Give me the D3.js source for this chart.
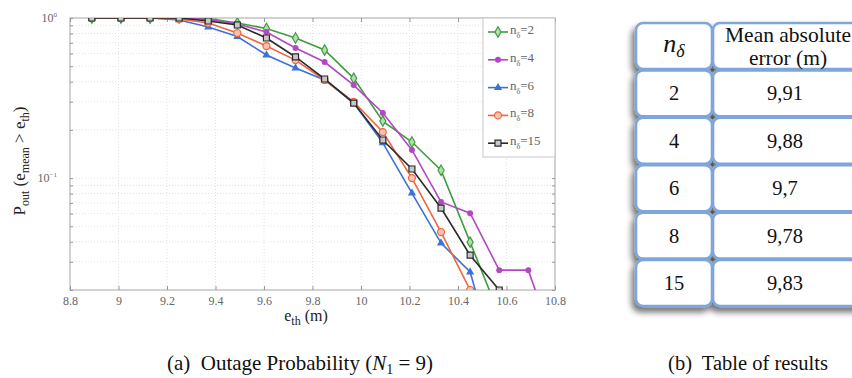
<!DOCTYPE html>
<html lang="en">
<head>
  <meta charset="UTF-8">
  <title>Outage Probability and Table of Results</title>
  <script src="https://d3js.org/d3.v7.min.js"></script>
  <style>
    body {
      margin: 0;
      background: #fff;
    }

    svg text {
      font-family: "Liberation Serif", "DejaVu Serif", serif;
    }

    .axis text {
      fill: #666;
      font-size: 12px;
    }

    .axis line {
      stroke: #999;
    }

    .grid line {
      stroke: #e2e2e2;
      stroke-dasharray: 1, 2;
    }
  </style>
</head>

<body>
  <div id="chart"></div>
  <script>
    // e_th sample positions (m)
    const eth = [8.89, 9.01, 9.13, 9.25, 9.37, 9.49, 9.61, 9.73, 9.85, 9.97, 10.09, 10.21, 10.33, 10.45, 10.57, 10.69, 10.81];

    // outage probability for each n_delta
    const pOut2 = [1, 1, 1, 1, 0.993, 0.931, 0.86, 0.75, 0.631, 0.42, 0.227, 0.168, 0.112, 0.0398, 0.014];
    const pOut4 = [1, 1, 1, 1, 0.979, 0.917, 0.818, 0.649, 0.531, 0.381, 0.255, 0.15, 0.071, 0.0604, 0.0266, 0.0266, 0.008];
    const pOut6 = [1, 1, 1, 0.972, 0.878, 0.766, 0.587, 0.487, 0.41, 0.294, 0.166, 0.0806, 0.0393, 0.0259, 0.006];
    const pOut8 = [1, 1, 1, 0.986, 0.931, 0.806, 0.668, 0.546, 0.41, 0.299, 0.194, 0.1, 0.046, 0.02];
    const pOut15 = [1, 1, 1, 1, 0.958, 0.904, 0.75, 0.571, 0.416, 0.294, 0.173, 0.114, 0.065, 0.033, 0.02];

    const seriesLabels = ["2", "4", "6", "8", "15"];
    const xTicks = [8.8, 9, 9.2, 9.4, 9.6, 9.8, 10, 10.2, 10.4, 10.6, 10.8];

    // table of results
    const tableN = ["2", "4", "6", "8", "15"];
    const tableMae = ["9,91", "9,88", "9,7", "9,78", "9,83"];

    const series = [
      {name: seriesLabels[0], values: pOut2, color: "#3f9c3f", fill: "#b5deb0", symbol: d3.symbolDiamond, size: 32},
      {name: seriesLabels[1], values: pOut4, color: "#b447c4", fill: "#b447c4", symbol: d3.symbolCircle, size: 18},
      {name: seriesLabels[2], values: pOut6, color: "#3a72d8", fill: "#3a72d8", symbol: d3.symbolTriangle, size: 16},
      {name: seriesLabels[3], values: pOut8, color: "#f0653f", fill: "#fbc1b0", symbol: d3.symbolCircle, size: 38},
      {name: seriesLabels[4], values: pOut15, color: "#2a2a2a", fill: "#c8c8c8", symbol: d3.symbolSquare, size: 36}
    ];

    const W = 852, H = 378;
    const plot = {left: 70, right: 555, top: 18, bottom: 290};
    const serif = "'Liberation Serif', 'DejaVu Serif', serif";

    const svg = d3.select("#chart")
      .append("svg")
      .attr("width", W)
      .attr("height", H)
      .attr("font-family", serif)
      .style("display", "block");

    const defs = svg.append("defs");
    defs.append("clipPath")
      .attr("id", "plot-clip")
      .append("rect")
      .attr("x", plot.left)
      .attr("y", plot.top)
      .attr("width", plot.right - plot.left)
      .attr("height", plot.bottom - plot.top);

    const shadow = defs.append("filter")
      .attr("id", "shadow")
      .attr("x", "-20%").attr("y", "-20%")
      .attr("width", "140%").attr("height", "140%");
    shadow.append("feDropShadow")
      .attr("dx", -3)
      .attr("dy", 5)
      .attr("stdDeviation", 3)
      .attr("flood-color", "#000")
      .attr("flood-opacity", 0.55);

    const x = d3.scaleLinear().domain([8.8, 10.8]).range([plot.left, plot.right]);
    const y = d3.scaleLog().domain([0.02, 1]).range([plot.bottom, plot.top]);

    // grid
    svg.append("g")
      .attr("class", "grid")
      .selectAll("line.v")
      .data(xTicks.slice(1, -1))
      .enter().append("line")
      .attr("x1", d => x(d)).attr("x2", d => x(d))
      .attr("y1", plot.top).attr("y2", plot.bottom);

    svg.append("g")
      .attr("class", "grid")
      .selectAll("line.h")
      .data(y.ticks().filter(d => d > 0.02 && d < 1))
      .enter().append("line")
      .attr("x1", plot.left).attr("x2", plot.right)
      .attr("y1", d => y(d)).attr("y2", d => y(d));

    // frame
    svg.append("rect")
      .attr("x", plot.left)
      .attr("y", plot.top)
      .attr("width", plot.right - plot.left)
      .attr("height", plot.bottom - plot.top)
      .attr("fill", "none")
      .attr("stroke", "#b5b5b5")
      .attr("stroke-width", 1.2);

    // axes
    const xAxis = svg.append("g")
      .attr("class", "axis")
      .attr("transform", "translate(0," + plot.bottom + ")")
      .call(d3.axisBottom(x).tickValues(xTicks).tickSize(-4).tickPadding(6).tickFormat(d3.format("")));
    xAxis.select(".domain").remove();
    xAxis.attr("font-family", serif);

    const xTop = svg.append("g")
      .attr("class", "axis")
      .attr("transform", "translate(0," + plot.top + ")")
      .call(d3.axisTop(x).tickValues(xTicks).tickSize(-4).tickFormat(""));
    xTop.select(".domain").remove();

    const yAxis = svg.append("g")
      .attr("class", "axis")
      .attr("transform", "translate(" + plot.left + ",0)")
      .call(d3.axisLeft(y).tickValues(y.ticks()).tickSize(-3).tickFormat(""));
    yAxis.select(".domain").remove();

    const yRight = svg.append("g")
      .attr("class", "axis")
      .attr("transform", "translate(" + plot.right + ",0)")
      .call(d3.axisRight(y).tickValues(y.ticks()).tickSize(-3).tickFormat(""));
    yRight.select(".domain").remove();

    const decades = svg.append("g")
      .selectAll("text")
      .data([1, 0.1])
      .enter().append("text")
      .attr("x", plot.left - 13)
      .attr("y", d => y(d) + 4)
      .attr("text-anchor", "end")
      .attr("fill", "#666")
      .style("font-size", "12px");
    decades.append("tspan").text("10");
    decades.append("tspan")
      .attr("dy", -5)
      .style("font-size", "7px")
      .text(d => d === 1 ? "0" : "\u22121");

    // series
    const line = d3.line()
      .x((d, i) => x(eth[i]))
      .y(d => y(d));

    const lines = svg.append("g").attr("clip-path", "url(#plot-clip)");

    series.forEach(s => {
      lines.append("path")
        .datum(s.values)
        .attr("fill", "none")
        .attr("stroke", s.color)
        .attr("stroke-width", 1.6)
        .attr("d", line);

      lines.selectAll(null)
        .data(s.values.filter(v => v >= 0.02))
        .enter().append("path")
        .attr("transform", (d, i) => "translate(" + x(eth[i]) + "," + y(d) + ")")
        .attr("d", d3.symbol().type(s.symbol).size(s.size))
        .attr("fill", s.fill)
        .attr("stroke", s.color)
        .attr("stroke-width", 1.2);
    });

    // legend
    const legendBox = {x: 483, y: plot.top, w: plot.right - 483, h: 139};
    svg.append("rect")
      .attr("x", legendBox.x)
      .attr("y", legendBox.y)
      .attr("width", legendBox.w)
      .attr("height", legendBox.h)
      .attr("fill", "#fff")
      .attr("stroke", "#c8c8c8");

    const legend = svg.append("g")
      .selectAll("g")
      .data(series)
      .enter().append("g")
      .attr("transform", (d, i) => "translate(" + (legendBox.x + 5) + "," + (32 + i * 27.8) + ")");

    legend.append("line")
      .attr("x1", 0).attr("x2", 20)
      .attr("stroke", d => d.color)
      .attr("stroke-width", 1.6);

    legend.append("path")
      .attr("transform", "translate(10,0)")
      .attr("d", d => d3.symbol().type(d.symbol).size(d.size)())
      .attr("fill", d => d.fill)
      .attr("stroke", d => d.color)
      .attr("stroke-width", 1.2);

    const legendText = legend.append("text")
      .attr("x", 22)
      .attr("y", 2)
      .attr("fill", "#666")
      .style("font-size", "13px");
    legendText.append("tspan").text("n");
    legendText.append("tspan").attr("dy", 4).style("font-size", "8px").text("\u03b4");
    legendText.append("tspan").attr("dy", -4).text(d => "=" + d.name);

    // axis titles
    const yTitle = svg.append("text")
      .attr("transform", "translate(25,161) rotate(-90)")
      .attr("text-anchor", "middle")
      .attr("fill", "#222")
      .style("font-size", "17px");
    yTitle.append("tspan").text("P");
    yTitle.append("tspan").attr("dy", 4).style("font-size", "12px").text("out");
    yTitle.append("tspan").attr("dy", -4).text(" (e");
    yTitle.append("tspan").attr("dy", 4).style("font-size", "12px").text("mean");
    yTitle.append("tspan").attr("dy", -4).text(" > e");
    yTitle.append("tspan").attr("dy", 4).style("font-size", "12px").text("th");
    yTitle.append("tspan").attr("dy", -4).text(")");

    const xTitle = svg.append("text")
      .attr("x", 306)
      .attr("y", 321)
      .attr("text-anchor", "middle")
      .attr("fill", "#222")
      .style("font-size", "16px");
    xTitle.append("tspan").text("e");
    xTitle.append("tspan").attr("dy", 4).style("font-size", "12px").text("th");
    xTitle.append("tspan").attr("dy", -4).text(" (m)");

    // table
    const rows = d3.scaleBand()
      .domain(["head"].concat(tableN))
      .range([23, 306])
      .paddingInner(0.03);
    const cols = {left: [636, 712], right: [713, 900]};

    const table = svg.append("g").attr("filter", "url(#shadow)");
    const cellData = [];
    rows.domain().forEach(r => {
      cellData.push({row: r, c: cols.left});
      cellData.push({row: r, c: cols.right});
    });
    table.selectAll("rect")
      .data(cellData)
      .enter().append("rect")
      .attr("x", d => d.c[0])
      .attr("y", d => rows(d.row))
      .attr("width", d => d.c[1] - d.c[0])
      .attr("height", rows.bandwidth())
      .attr("rx", 7)
      .attr("fill", "#fff")
      .attr("stroke", "#7ea6dc")
      .attr("stroke-width", 2.6);

    svg.append("g")
      .selectAll("circle")
      .data(tableN)
      .enter().append("circle")
      .attr("cx", 712.5)
      .attr("cy", d => rows(d) - 0.5)
      .attr("r", 1.6)
      .attr("fill", "#555");

    const leftMid = (cols.left[0] + cols.left[1]) / 2;
    const rightMid = 788;

    const head = svg.append("text")
      .attr("x", leftMid)
      .attr("y", rows("head") + 29)
      .attr("text-anchor", "middle")
      .attr("fill", "#111")
      .style("font-style", "italic");
    head.append("tspan").style("font-size", "26px").text("n");
    head.append("tspan").attr("dy", 5).style("font-size", "18px").text("\u03b4");

    svg.append("text")
      .attr("x", rightMid)
      .attr("y", rows("head") + 19)
      .attr("text-anchor", "middle")
      .attr("fill", "#111")
      .style("font-size", "21.5px")
      .text("Mean absolute");
    svg.append("text")
      .attr("x", rightMid)
      .attr("y", rows("head") + 42)
      .attr("text-anchor", "middle")
      .attr("fill", "#111")
      .style("font-size", "21.5px")
      .text("error (m)");

    svg.append("g")
      .selectAll("text")
      .data(tableN)
      .enter().append("text")
      .attr("x", leftMid)
      .attr("y", d => rows(d) + rows.bandwidth() / 2 + 7)
      .attr("text-anchor", "middle")
      .attr("fill", "#111")
      .style("font-size", "20.5px")
      .text(d => d);

    svg.append("g")
      .selectAll("text")
      .data(tableMae)
      .enter().append("text")
      .attr("x", rightMid - 3)
      .attr("y", (d, i) => rows(tableN[i]) + rows.bandwidth() / 2 + 7)
      .attr("text-anchor", "middle")
      .attr("fill", "#111")
      .style("font-size", "20.5px")
      .text(d => d);

    // captions
    const capA = svg.append("text")
      .attr("x", 300)
      .attr("y", 370)
      .attr("text-anchor", "middle")
      .attr("fill", "#111")
      .style("font-size", "21px");
    capA.append("tspan").text("(a)\u00a0 Outage Probability (");
    capA.append("tspan").style("font-style", "italic").text("N");
    capA.append("tspan").attr("dy", 4).style("font-size", "14px").text("1");
    capA.append("tspan").attr("dy", -4).text(" = 9)");

    svg.append("text")
      .attr("x", 748)
      .attr("y", 370)
      .attr("text-anchor", "middle")
      .attr("fill", "#111")
      .style("font-size", "20.5px")
      .text("(b)\u00a0 Table of results");
  </script>
</body>

</html>
